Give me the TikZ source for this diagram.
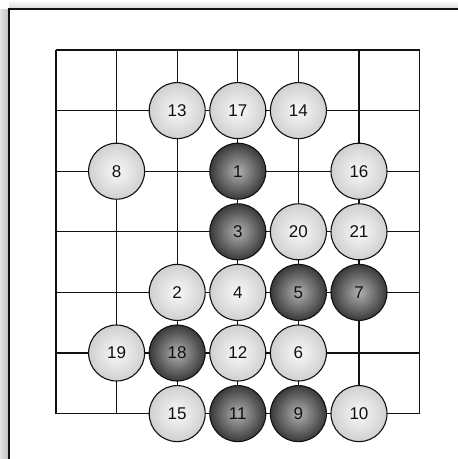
\documentclass[tikz,border=0pt]{standalone}
\usepackage{fontspec}
\setmainfont{Liberation Sans}
\usetikzlibrary{shadings}
\definecolor{ink}{HTML}{111111}
\definecolor{shadow}{HTML}{BDBDBD}
\definecolor{wfill}{HTML}{F8F8F8}
\definecolor{wedge}{HTML}{D0D0D0}
\definecolor{bfill}{HTML}{B0B0B0}
\definecolor{bedge}{HTML}{3A3A3A}
\tikzset{
  board/.style={draw=ink, line width=1.3pt, step=60.6pt},
  page/.style={draw=ink, line width=1.4pt},
  %
  stone/.style={circle, draw=ink, line width=1.1pt, minimum size=56pt,
                inner sep=0pt, text=ink, font=\fontsize{17}{19}\selectfont,
                shading=radial},
  wstone/.style={stone, inner color=wfill, outer color=wedge},
  bstone/.style={stone, inner color=bfill, outer color=bedge},
}
\begin{document}
\begin{tikzpicture}[x=60.6pt, y=-60.6pt]

  \useasboundingbox (-56pt,50pt) rectangle (402pt,-409pt);

  % --- the page edge and its shadow --------------------------------------
  \shade[left color=shadow!40, right color=shadow] (-56pt,-409pt) rectangle (-47pt,41pt);
  \shade[top color=white, bottom color=shadow!60] (-47pt,50pt) rectangle (402pt,41pt);
  \draw[page] (-47pt,-409pt) -- (-47pt,41pt) -- (402pt,41pt);

  % --- the board ---------------------------------------------------------
  \draw[board] (0,0) grid (6,6);

  % --- the moves ---------------------------------------------------------
  \node[bstone] (m1)  at (3,2) {1};
  \node[wstone] (m2)  at (2,4) {2};
  \node[bstone] (m3)  at (3,3) {3};
  \node[wstone] (m4)  at (3,4) {4};
  \node[bstone] (m5)  at (4,4) {5};
  \node[wstone] (m6)  at (4,5) {6};
  \node[bstone] (m7)  at (5,4) {7};
  \node[wstone] (m8)  at (1,2) {8};
  \node[bstone] (m9)  at (4,6) {9};
  \node[wstone] (m10) at (5,6) {10};
  \node[bstone] (m11) at (3,6) {11};
  \node[wstone] (m12) at (3,5) {12};
  \node[wstone] (m13) at (2,1) {13};
  \node[wstone] (m14) at (4,1) {14};
  \node[wstone] (m15) at (2,6) {15};
  \node[wstone] (m16) at (5,2) {16};
  \node[wstone] (m17) at (3,1) {17};
  \node[bstone] (m18) at (2,5) {18};
  \node[wstone] (m19) at (1,5) {19};
  \node[wstone] (m20) at (4,3) {20};
  \node[wstone] (m21) at (5,3) {21};

\end{tikzpicture}
\end{document}
